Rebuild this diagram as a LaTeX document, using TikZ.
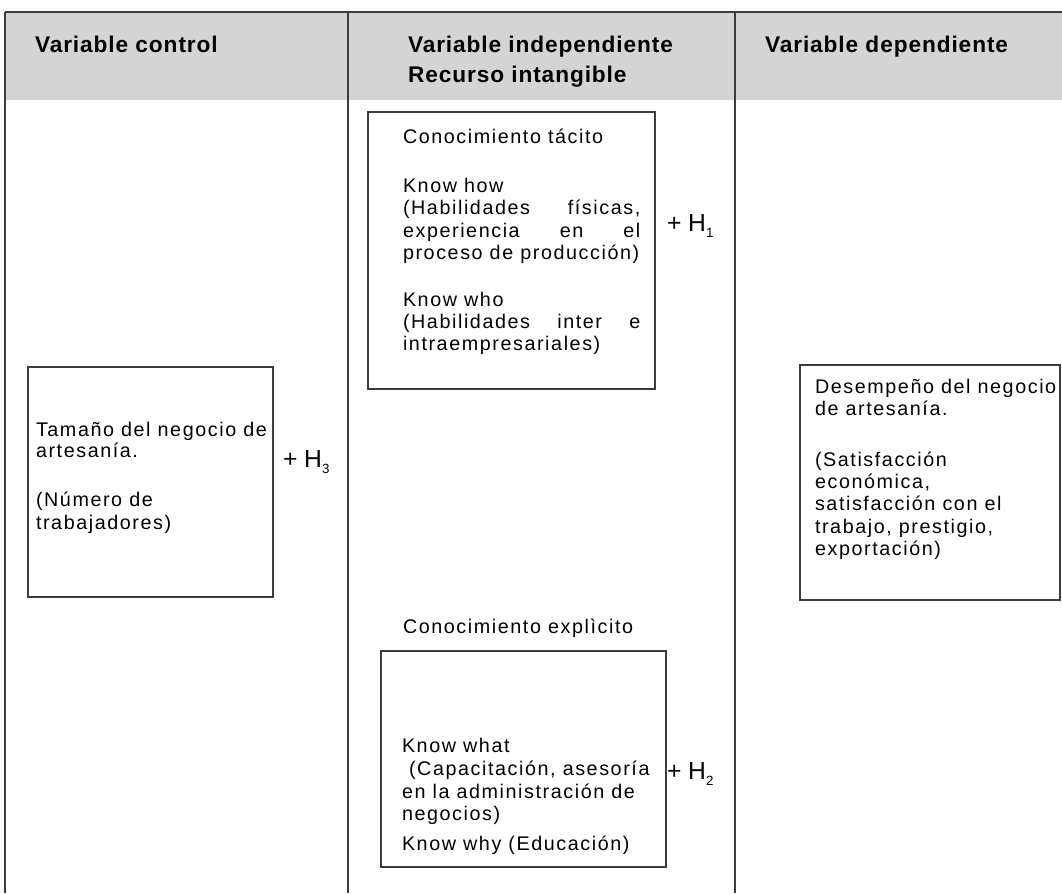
\documentclass[tikz,border=0pt]{standalone}
\usepackage{fontspec}
\setmainfont{Liberation Sans}
\newfontfamily\bodyf{Liberation Sans}[LetterSpace=8]
\newfontfamily\headf{Liberation Sans}[LetterSpace=4]
\usetikzlibrary{fit}
\definecolor{hdr}{RGB}{212,212,212}
\definecolor{ln}{RGB}{60,60,60}
\tikzset{
  every node/.style={inner sep=0pt, outer sep=0pt},
  box/.style={draw=ln, line width=0.8pt, inner sep=0pt},
  rule/.style={draw=ln, line width=0.8pt},
  body/.style={font=\bodyf\fontsize{14.8}{17}\selectfont, anchor=base west},
  head/.style={font=\headf\bfseries\fontsize{17}{20}\selectfont, anchor=base west},
  hyp/.style={font=\fontsize{18.5}{18}\selectfont, anchor=base west},
}
\newcommand{\hsub}[1]{\raisebox{-5pt}{\fontsize{10}{10}\selectfont #1}}
\begin{document}
\begin{tikzpicture}[x=0.75pt, y=-0.75pt]
\useasboundingbox (0,0) rectangle (1062,893);
% header band
\fill[hdr] (5,12) rectangle (1062,100);
\coordinate (tl) at (5,12);
\coordinate (tr) at (1062,12);
\draw[rule] (tl) -- (tr);
\coordinate (c0t) at (5,12);   \coordinate (c0b) at (5,893);
\coordinate (c1t) at (348,12); \coordinate (c1b) at (348,893);
\coordinate (c2t) at (735,12); \coordinate (c2b) at (735,893);
\draw[rule] (c0t) -- (c0b);
\draw[rule] (c1t) -- (c1b);
\draw[rule] (c2t) -- (c2b);
% headers
\node[head] (h1) at (35,52) {Variable control};
\node[head] (h2a) at (408,52) {Variable independiente};
\node[head] (h2b) at (408,82) {Recurso intangible};
\node[head] (h3) at (765,52) {Variable dependiente};
% boxes
\node[box, fit={(368,112)(655,389)}] (tacit) {};
\node[box, fit={(28,367)(273,597)}] (size) {};
\node[box, fit={(381,651)(666,867)}] (expl) {};
\node[box, fit={(800,365)(1060,600)}] (perf) {};
% tacit text
\node[body] (ta1) at (403,143) {Conocimiento tácito};
\node[body] (ta2) at (403,192) {Know how};
\node[body] (ta3) at (403,214) {\makebox[178pt][s]{(Habilidades físicas,}};
\node[body] (ta4) at (403,237) {\makebox[178pt][s]{experiencia en el}};
\node[body] (ta5) at (403,259) {proceso de producción)};
\node[body] (ta6) at (403,306) {Know who};
\node[body] (ta7) at (403,328) {\makebox[178pt][s]{(Habilidades inter e}};
\node[body] (ta8) at (403,350) {intraempresariales)};
% size text
\node[body] (s1) at (36,436) {Tamaño del negocio de};
\node[body] (s2) at (36,457) {artesanía.};
\node[body] (s3) at (36,506) {(Número de};
\node[body] (s4) at (36,529) {trabajadores)};
% performance text
\node[body] (p1) at (815,393) {Desempeño del negocio};
\node[body] (p2) at (815,415) {de artesanía.};
\node[body] (p3) at (815,466) {(Satisfacción};
\node[body] (p4) at (815,488) {económica,};
\node[body] (p5) at (815,510) {satisfacción con el};
\node[body] (p6) at (815,533) {trabajo, prestigio,};
\node[body] (p7) at (815,555) {exportación)};
% explicit text
\node[body] (e0) at (403,633) {Conocimiento explìcito};
\node[body] (e1) at (402,752) {Know what};
\node[body] (e2) at (402,775) {\ (Capacitación, asesoría};
\node[body] (e3) at (402,798) {en la administración de};
\node[body] (e4) at (402,820) {negocios)};
\node[body] (e5) at (402,850) {Know why (Educación)};
% hypotheses
\node[hyp] (H1) at (667,231) {+ H\hsub{1}};
\node[hyp] (H3) at (283,467) {+ H\hsub{3}};
\node[hyp] (H2) at (667,779) {+ H\hsub{2}};
\end{tikzpicture}
\end{document}
